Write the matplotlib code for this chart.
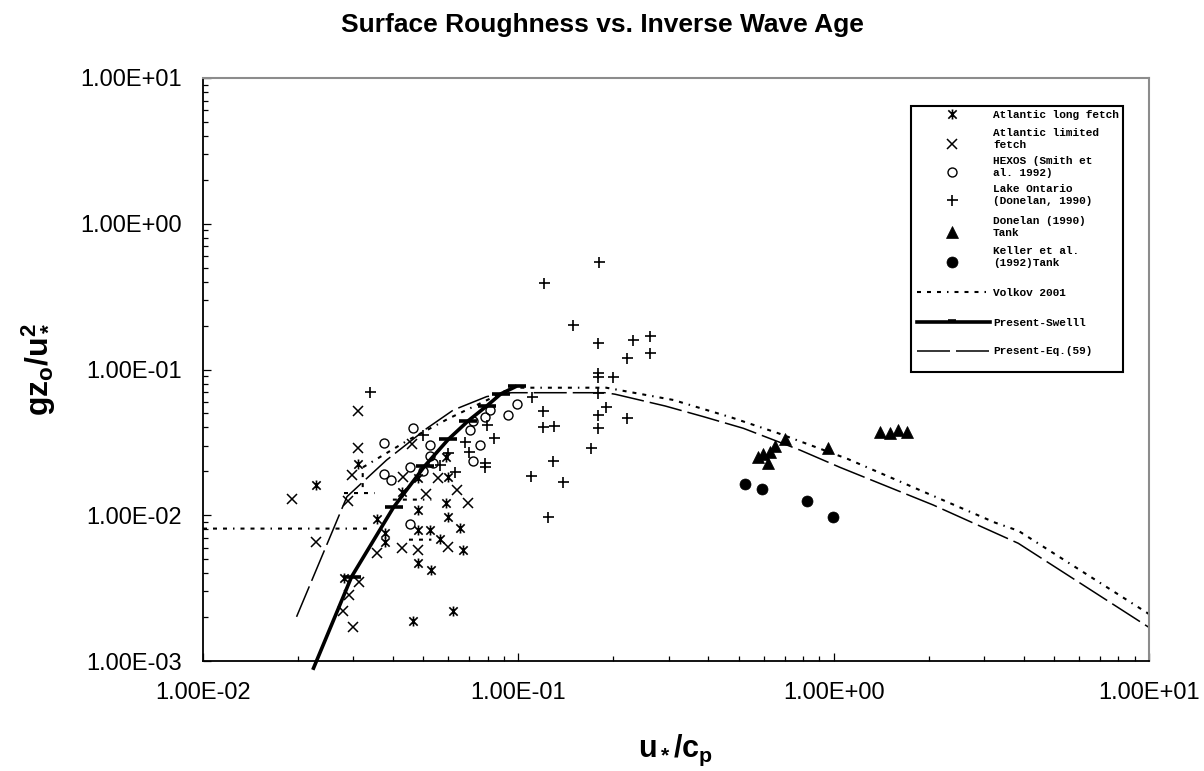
import numpy as np
import matplotlib
matplotlib.use('Agg')
import matplotlib.pyplot as plt
from matplotlib.lines import Line2D
from matplotlib.patches import Rectangle
from matplotlib.path import Path
from matplotlib.ticker import LogLocator, FuncFormatter, NullFormatter

plt.rcParams['font.family'] = ['Liberation Sans', 'DejaVu Sans']
plt.rcParams['mathtext.fontset'] = 'custom'
plt.rcParams['mathtext.rm'] = 'Liberation Sans'
plt.rcParams['mathtext.bf'] = 'Liberation Sans:bold'
plt.rcParams['mathtext.it'] = 'Liberation Sans:italic'
plt.rcParams['lines.scale_dashes'] = False

# ---------------- data ----------------
atl_long_x = [0.0228, 0.0311, 0.0279, 0.0356, 0.0377, 0.0377, 0.0482, 0.0427, 0.0482, 0.0482,
              0.0525, 0.0482, 0.053, 0.0462, 0.0622, 0.060, 0.0591, 0.060, 0.0652, 0.0669,
              0.0564, 0.0591]
atl_long_y = [0.0161, 0.0224, 0.00369, 0.00938, 0.0075, 0.0066, 0.0179, 0.0145, 0.01087, 0.00792,
              0.00792, 0.00468, 0.00421, 0.00189, 0.00221, 0.0184, 0.0121, 0.00978, 0.00814, 0.00578,
              0.00684, 0.0252]

atl_lim_x = [0.0191, 0.0228, 0.0311, 0.0311, 0.0296, 0.0289, 0.0313, 0.029, 0.0277, 0.0299,
             0.0356, 0.0427, 0.0461, 0.0432, 0.051, 0.0482, 0.0557, 0.0638, 0.0694, 0.060]
atl_lim_y = [0.01287, 0.00652, 0.0519, 0.0288, 0.0189, 0.01253, 0.0035, 0.00284, 0.00221, 0.00172,
             0.00548, 0.00593, 0.0307, 0.0184, 0.014, 0.00578, 0.0179, 0.0149, 0.0122, 0.00608]

hexos_x = [0.0375, 0.0375, 0.0396, 0.0464, 0.0455, 0.0455, 0.0498, 0.0525, 0.0525, 0.0537,
           0.0703, 0.0717, 0.0756, 0.0717, 0.0784, 0.0812, 0.0989, 0.0930]
hexos_y = [0.0311, 0.0192, 0.0175, 0.0395, 0.0215, 0.00867, 0.0202, 0.0303, 0.0256, 0.0228,
           0.0385, 0.0445, 0.0303, 0.0235, 0.047, 0.0527, 0.058, 0.0487]

ontario_x = [0.0339, 0.0498, 0.060, 0.063, 0.0678, 0.070, 0.0794, 0.084, 0.0784, 0.0784, 0.0564,
             0.1103, 0.1195, 0.1195, 0.130, 0.129, 0.110, 0.139, 0.1245, 0.1697,
             0.1794, 0.1794, 0.1794, 0.1794, 0.1794, 0.1794,
             0.200, 0.190, 0.2207, 0.2207, 0.2306, 0.2617, 0.2617, 0.1494, 0.121, 0.180]
ontario_y = [0.0705, 0.0356, 0.0269, 0.0199, 0.032, 0.0273, 0.0416, 0.034, 0.0228, 0.0215, 0.0221,
             0.0644, 0.0522, 0.0405, 0.0412, 0.0235, 0.0187, 0.017, 0.00978, 0.0291,
             0.151, 0.095, 0.0893, 0.0694, 0.0488, 0.0399,
             0.0884, 0.0556, 0.0467, 0.119, 0.159, 0.170, 0.130, 0.202, 0.392, 0.546]

donelan_tank_x = [1.404, 1.51, 1.604, 1.713, 0.962, 0.577, 0.598, 0.620, 0.626, 0.650, 0.702]
donelan_tank_y = [0.0374, 0.0365, 0.0385, 0.0374, 0.0288, 0.025, 0.0262, 0.0228, 0.0271, 0.0298, 0.0332]

keller_x = [0.524, 0.594, 0.822, 0.998]
keller_y = [0.0164, 0.0151, 0.0126, 0.00968]

nan = np.nan
volkov_x = [0.01, 0.034, nan, 0.028, 0.035, nan, 0.040, 0.053, nan, 0.045, 0.053, nan,
            0.0321, 0.0321, 0.045, 0.060, 0.080, 0.095, 0.19, 0.31, 0.475, 0.668, 1.11, 1.747,
            3.25, 3.85, 10.0]
volkov_y = [0.0081, 0.0081, nan, 0.0142, 0.0142, nan, 0.0128, 0.0128, nan, 0.0068, 0.0068, nan,
            0.0156, 0.0213, 0.033, 0.046, 0.062, 0.075, 0.075, 0.0618, 0.0468, 0.0365, 0.0243, 0.0159,
            0.0089, 0.00783, 0.0021]

swell_x = [0.0223, 0.0296, 0.0402, 0.0506, 0.060, 0.0694, 0.0794, 0.088, 0.0989]
swell_y = [0.00087, 0.00379, 0.01134, 0.0219, 0.0332, 0.0445, 0.0562, 0.068, 0.077]

eq59_x = [0.0198, 0.0286, 0.0382, 0.0513, 0.0622, 0.0794, 0.095, 0.188, 0.2025, 0.292, 0.386,
          0.517, 0.782, 1.048, 2.07, 3.85, 10.0]
eq59_y = [0.00201, 0.0134, 0.0239, 0.0395, 0.0527, 0.0652, 0.0693, 0.0693, 0.0677, 0.0562, 0.0475,
          0.0395, 0.028, 0.0213, 0.01175, 0.00642, 0.0017]

legend_labels = ['Atlantic long fetch', 'Atlantic limited\nfetch', 'HEXOS (Smith et\nal. 1992)',
                 'Lake Ontario\n(Donelan, 1990)', 'Donelan (1990)\nTank', 'Keller et al.\n(1992)Tank',
                 'Volkov 2001', 'Present-Swelll', 'Present-Eq.(59)']

title = 'Surface Roughness vs. Inverse Wave Age'

# ---------------- figure ----------------
W, H = 1204, 771
fig = plt.figure(figsize=(W / 100, H / 100), dpi=100)
ax = fig.add_axes([203 / W, 1 - 661 / H, 946 / W, 583 / H])
ax.set_xscale('log')
ax.set_yscale('log')
ax.set_xlim(0.01, 10)
ax.set_ylim(0.001, 10)

PX = 0.72  # points per pixel at 100 dpi
ast_path = Path([(-1, -1), (1, 1), (-1, 1), (1, -1), (0, -1.2), (0, 1.2)],
                [Path.MOVETO, Path.LINETO] * 3)

sty = {
    'long': dict(marker=ast_path, ms=10 * PX, mfc='none', mec='black', mew=1.2, ls='none'),
    'lim': dict(marker='x', ms=10 * PX, mec='black', mew=1.1, ls='none'),
    'hexos': dict(marker='o', ms=9 * PX, mfc='none', mec='black', mew=1.0, ls='none'),
    'ont': dict(marker='+', ms=11 * PX, mec='black', mew=1.2, ls='none'),
    'tank': dict(marker='^', ms=12 * PX, mfc='black', mec='black', mew=0.5, ls='none'),
    'keller': dict(marker='o', ms=11 * PX, mfc='black', mec='black', mew=0.5, ls='none'),
}
volkov_dash = (0, (4 * PX, 6 * PX, 4 * PX, 6 * PX, 4 * PX, 6 * PX, 1.5 * PX, 6 * PX))
eq_dash = (0, (33 * PX, 6 * PX))

ax.plot(atl_long_x, atl_long_y, **sty['long'])
ax.plot(atl_lim_x, atl_lim_y, **sty['lim'])
ax.plot(hexos_x, hexos_y, **sty['hexos'])
ax.plot(ontario_x, ontario_y, **sty['ont'])
ax.plot(donelan_tank_x, donelan_tank_y, **sty['tank'])
ax.plot(keller_x, keller_y, **sty['keller'])
ax.plot(volkov_x, volkov_y, color='black', lw=1.5, ls=volkov_dash)
ax.plot(swell_x, swell_y, color='black', lw=2.6, solid_capstyle='butt', marker='_',
        ms=18 * PX, mew=2.6, markevery=list(range(1, len(swell_x))), clip_on=False)
ax.plot(eq59_x, eq59_y, color='black', lw=1.1, ls=eq_dash)

# axes styling
for s in ['left', 'bottom']:
    ax.spines[s].set_color('black')
    ax.spines[s].set_linewidth(1.3)
for s in ['top', 'right']:
    ax.spines[s].set_color('#8c8c8c')
    ax.spines[s].set_linewidth(1.5)

fmt = FuncFormatter(lambda v, p: f'{v:.2E}')
for axis in (ax.xaxis, ax.yaxis):
    axis.set_major_locator(LogLocator(base=10, numticks=12))
    axis.set_minor_locator(LogLocator(base=10, subs=np.arange(2, 10), numticks=12))
    axis.set_major_formatter(fmt)
    axis.set_minor_formatter(NullFormatter())
ax.tick_params(which='both', direction='in', top=False, right=False, width=0.9, color='black')
ax.tick_params(which='major', length=8 * PX, labelsize=17, pad=15)
ax.tick_params(which='minor', length=5 * PX)

fig.text(0.5, 1 - 25 / H, title, ha='center', va='center', fontsize=19, fontweight='bold')
fig.text(676 / W, 1 - 757 / H, r'$\mathbf{u_*/c_p}$', ha='center', va='baseline', fontsize=22)
fig.text(38 / W, 1 - 369 / H, r'$\mathbf{gz_o/u_*^2}$', ha='center', va='center',
         rotation=90, fontsize=23)

# ---------------- legend (drawn manually) ----------------
def fx(px):
    return px / W


def fy(py):
    return 1 - py / H


fig.add_artist(Rectangle((fx(911), fy(372)), (1123 - 911) / W, (372 - 106) / H,
                         transform=fig.transFigure, facecolor='white', edgecolor='black',
                         lw=1.5, zorder=5))
entry_y = [114, 144, 172, 200, 232, 262, 292, 322, 351]
marker_keys = ['long', 'lim', 'hexos', 'ont', 'tank', 'keller']
for i, (lab, yy) in enumerate(zip(legend_labels, entry_y)):
    if i < 6:
        st = dict(sty[marker_keys[i]])
        fig.add_artist(Line2D([fx(952)], [fy(yy)], transform=fig.transFigure, zorder=6, **st))
    elif i == 6:
        fig.add_artist(Line2D([fx(917), fx(990)], [fy(yy), fy(yy)], transform=fig.transFigure,
                              color='black', lw=1.5, ls=volkov_dash, zorder=6))
    elif i == 7:
        fig.add_artist(Line2D([fx(917), fx(990)], [fy(yy), fy(yy)], transform=fig.transFigure,
                              color='black', lw=2.6, zorder=6))
        fig.add_artist(Line2D([fx(952)], [fy(yy - 1)], transform=fig.transFigure, color='black',
                              marker='_', ms=8 * PX, mew=2.6, zorder=6))
    else:
        fig.add_artist(Line2D([fx(917), fx(990)], [fy(yy), fy(yy)], transform=fig.transFigure,
                              color='black', lw=1.1, ls=eq_dash, zorder=6))
    fig.text(fx(993), fy(yy + 3.5), lab, ha='left', va='baseline', fontsize=8,
             family='Liberation Mono', fontweight='bold', linespacing=1.15, zorder=7)

fig.savefig('out.png', dpi=100)
